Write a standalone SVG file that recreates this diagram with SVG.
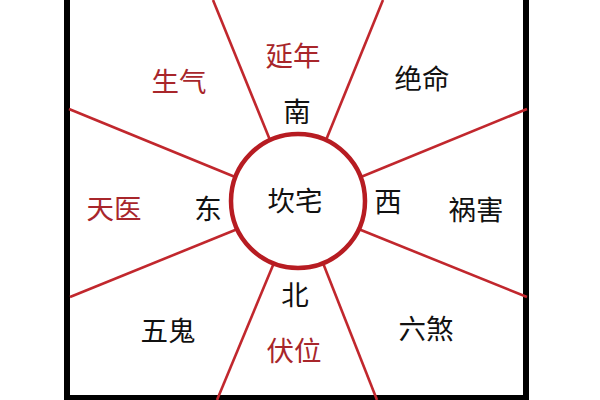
<svg xmlns="http://www.w3.org/2000/svg" width="600" height="400" viewBox="0 0 600 400">
<style>
.ray{stroke:#c1272d;stroke-width:2.6;fill:none;stroke-linecap:butt}
.hub{stroke:#b71c22;stroke-width:4.5;fill:#fff}
.frame{stroke:#000;stroke-width:6;fill:none}
text{font-family:"Noto Sans CJK SC","Noto Sans CJK JP",sans-serif;font-size:27.5px;font-weight:400;text-anchor:middle;dominant-baseline:central}
.r{fill:#a8262b}
.k{fill:#111}
</style>
<rect width="600" height="400" fill="#fff"/>
<g id="frame">
<path class="frame" d="M67,0 V398 H526 V0"/>
</g>
<g id="connectors">
<line class="ray" x1="213" y1="0" x2="272" y2="145"/>
<line class="ray" x1="383" y1="0" x2="324" y2="145"/>
<line class="ray" x1="69" y1="109" x2="240" y2="179"/>
<line class="ray" x1="70" y1="297" x2="240" y2="228"/>
<line class="ray" x1="527" y1="109" x2="356" y2="179"/>
<line class="ray" x1="527" y1="297" x2="356" y2="228"/>
<line class="ray" x1="217" y1="400" x2="276" y2="258"/>
<line class="ray" x1="377" y1="400" x2="321" y2="258"/>
</g>
<g id="center">
<circle class="hub" cx="298" cy="201" r="67"/>
<text class="k" x="295" y="199" font-size="29.5">坎宅</text>
</g>
<g id="south"><text class="k" x="297" y="110">南</text></g>
<g id="east"><text class="k" x="208" y="207">东</text></g>
<g id="west"><text class="k" x="388" y="200">西</text></g>
<g id="north"><text class="k" x="295" y="293">北</text></g>
<g id="yannian"><text class="r" x="293" y="54">延年</text></g>
<g id="shengqi"><text class="r" x="179" y="80">生气</text></g>
<g id="jueming"><text class="k" x="422" y="77">绝命</text></g>
<g id="tianyi"><text class="r" x="114" y="207">天医</text></g>
<g id="huohai"><text class="k" x="476" y="208">祸害</text></g>
<g id="wugui"><text class="k" x="168" y="329">五鬼</text></g>
<g id="fuwei"><text class="r" x="294" y="349">伏位</text></g>
<g id="liusha"><text class="k" x="426" y="327">六煞</text></g>
</svg>
